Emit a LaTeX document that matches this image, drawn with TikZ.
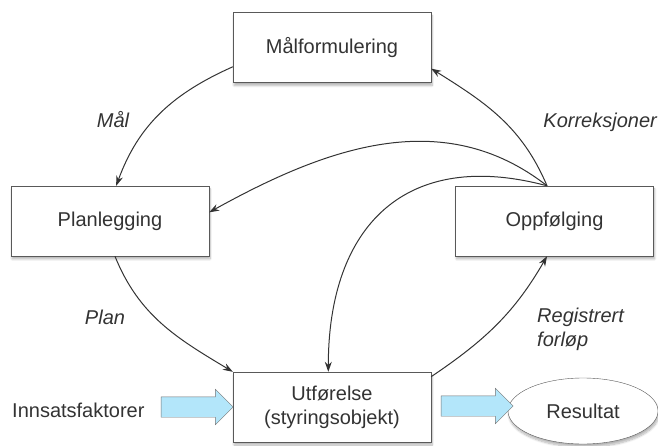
\documentclass[tikz,border=0pt]{standalone}
\usepackage{fontspec}
\setmainfont{Liberation Sans}
\usetikzlibrary{arrows.meta,shapes.geometric,shapes.arrows,shadows.blur}

\begin{document}
\begin{tikzpicture}[x=1pt, y=1pt, font=\fontsize{20}{24}\selectfont, text=black!80,
    boks/.style={draw=black!65, fill=white, minimum width=198pt, minimum height=70pt, align=center,
        blur shadow={shadow blur steps=8, shadow xshift=1pt, shadow yshift=-3pt, shadow opacity=30}},
    pil/.style={-{Stealth[length=10pt, width=7pt]}, draw=black!80, line width=1pt},
    etikett/.style={font=\fontsize{20}{24}\selectfont\itshape},
    blokkpil/.style={single arrow, draw=black!55, fill=cyan!30, minimum height=72pt,
        single arrow head extend=7.5pt, inner xsep=0pt, inner ysep=10pt}]
    \useasboundingbox (0,0) rectangle (658,445);

    \node[boks] (maal) at (332,397.5) {Målformulering};
    \node[boks] (plan) at (110,224) {Planlegging};
    \node[boks] (oppf) at (554.5,224) {Oppfølging};
    \node[boks] (utf) at (332,38) {Utførelse\\(styringsobjekt)};
    \node[ellipse, draw=black!65, fill=white, minimum width=150pt, minimum height=66pt,
        blur shadow={shadow blur steps=8, shadow xshift=1pt, shadow yshift=-3pt, shadow opacity=30}] (res) at (583,34) {Resultat};

    \node[anchor=west, inner sep=0pt] (inns) at (12,35) {Innsatsfaktorer};
    \node[blokkpil] (inn) at (192,38) {};
    \node[blokkpil] (ut) at (472,39) {};

    % kretsløpet
    \draw[pil] (maal.191) to[out=204, in=70] (plan.80);
    \draw[pil] (plan.278) to[out=-68, in=149] (utf.north west);
    \draw[pil] (utf.17) to[out=34, in=240] (oppf.258);
    \draw[pil] (oppf.102) to[out=113, in=-32] (maal.348);
    % tilbakemeldinger fra oppfølging
    \draw[pil] (oppf.102) to[out=142, in=29] (plan.5);
    \draw[pil] (oppf.102) to[out=165, in=90, looseness=1.3] (utf.96);

    \node[etikett] (lmaal) at (113,325) {Mål};
    \node[etikett] (lplan) at (105,128) {Plan};
    \node[etikett, anchor=east, inner sep=0pt] (lkorr) at (657,323) {Korreksjoner};
    \node[etikett, anchor=west, align=left, inner sep=0pt] (lreg) at (537,116) {Registrert\\forløp};
\end{tikzpicture}
\end{document}
